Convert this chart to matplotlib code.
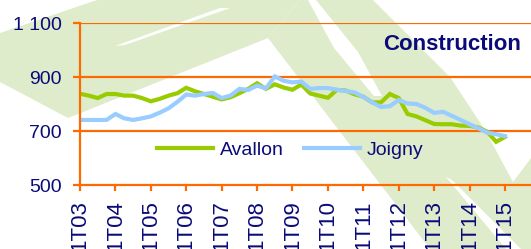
import matplotlib
matplotlib.use("Agg")
import matplotlib.pyplot as plt
from matplotlib.patches import Polygon
import numpy as np

plt.rcParams['font.family'] = ['Liberation Sans', 'DejaVu Sans']

# quarterly index, 1T03 .. 1T15
years = ["1T03", "1T04", "1T05", "1T06", "1T07", "1T08", "1T09",
         "1T10", "1T11", "1T12", "1T13", "1T14", "1T15"]

avallon = [838, 831, 822, 837, 837, 831, 831, 822, 810, 819, 831, 840, 860,
           847, 837, 827, 817, 825, 840, 856, 877, 856, 873, 861, 853, 872,
           839, 831, 823, 852, 850, 836, 827, 806, 806, 837, 822, 763, 754,
           740, 726, 725, 725, 720, 719, 713, 697, 660, 678]

joigny = [741, 741, 741, 741, 763, 747, 741, 747, 754, 768, 784, 808, 835,
          831, 837, 841, 822, 831, 856, 852, 868, 858, 902, 886, 880, 883,
          856, 859, 859, 853, 848, 843, 826, 806, 789, 792, 815, 802, 800,
          786, 767, 771, 756, 741, 725, 710, 694, 688, 681]

ORANGE = "#ff6a00"
NAVY = "#0a0a78"
GREEN_BG = "#dfeccb"

fig = plt.figure(figsize=(5.31, 2.49), dpi=100)

# decorative watermark behind the chart (pixel coordinates)
bg = fig.add_axes([0, 0, 1, 1], zorder=0)
bg.set_xlim(0, 531)
bg.set_ylim(249, 0)
bg.axis("off")
green_shapes = [
    [(0, 33), (97, 0), (300, 0), (268, 38), (68, 118), (0, 82)],
    [(268, 38), (300, 0), (373, 0), (450, 77), (485, 130), (513, 182),
     (531, 158), (531, 249), (430, 249)],
]
white_shapes = [
    [(115, 46), (220, 8), (230, 8), (125, 45)],
    [(308, 0), (316, 0), (358, 52), (382, 96), (374, 96), (334, 48)],
    [(446, 177), (452, 180), (521, 249), (506, 249)],
]
for pts in green_shapes:
    bg.add_patch(Polygon(pts, closed=True, facecolor=GREEN_BG, edgecolor="none"))
for pts in white_shapes:
    bg.add_patch(Polygon(pts, closed=True, facecolor="white", edgecolor="none"))

ax = fig.add_axes([80 / 531, 1 - 185 / 249, 451 / 531, 162 / 249], zorder=1)
ax.patch.set_alpha(0)

x = np.arange(len(avallon))
ax.plot(x, avallon, color="#99cc00", lw=3, label="Avallon", solid_joinstyle="miter")
ax.plot(x, joigny, color="#99ccff", lw=3, label="Joigny", solid_joinstyle="miter")

ax.set_xlim(0, 50.94)
ax.set_ylim(500, 1100)
ax.set_yticks([500, 700, 900, 1100])
ax.set_yticklabels(["500", "700", "900", "1 100"])
ax.set_xticks(np.arange(0, 49, 4))
ax.set_xticklabels(years, rotation=90, va="top")

for y in [700, 900, 1100]:
    ax.axhline(y, color=ORANGE, lw=1.6, zorder=0)
for s in ["top", "right"]:
    ax.spines[s].set_visible(False)
for s in ["left", "bottom"]:
    ax.spines[s].set_color(ORANGE)
    ax.spines[s].set_linewidth(1.6)

ax.tick_params(axis="y", colors=ORANGE, labelcolor=NAVY, labelsize=14,
               length=5, width=1.6, pad=8)
ax.tick_params(axis="x", colors=ORANGE, labelcolor=NAVY, labelsize=16,
               length=4, width=1.6, pad=7)

ax.text(0.978, 0.865, "Construction", transform=ax.transAxes, ha="right",
        va="center", fontsize=16, fontweight="bold", color=NAVY)

leg = ax.legend(loc="center left", bbox_to_anchor=(157 / 531, 1 - 150 / 249),
                bbox_transform=fig.transFigure, ncol=2, frameon=False,
                fontsize=14, handlelength=2.9, handletextpad=0.35,
                columnspacing=1.0, borderpad=0, borderaxespad=0)
for t in leg.get_texts():
    t.set_color(NAVY)

fig.savefig("out.png", dpi=100)
